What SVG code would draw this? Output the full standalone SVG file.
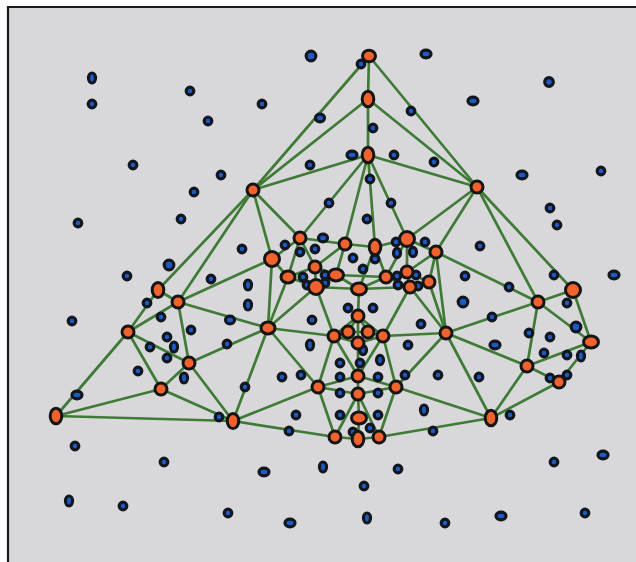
<svg xmlns="http://www.w3.org/2000/svg" width="636" height="562" viewBox="0 0 636 562">
<style>
.e{stroke:#3f7a37;stroke-width:2.7;stroke-linecap:round;fill:none}
.o{fill:#f2622c;stroke:#151515;stroke-width:3}
.b{fill:#1d5bc6;stroke:#12161e;stroke-width:3.2}
</style>
<rect x="0" y="0" width="636" height="562" fill="#ffffff"/>
<rect x="8" y="7" width="628" height="555" fill="#d8d8da"/>
<path d="M8,562 V7 H636" fill="none" stroke="#1a1a1a" stroke-width="2.2"/>
<g id="connectors">
<line class="e" x1="369" y1="56" x2="368" y2="99"/>
<line class="e" x1="369" y1="56" x2="253" y2="190"/>
<line class="e" x1="369" y1="56" x2="477" y2="187"/>
<line class="e" x1="368" y1="99" x2="368" y2="155"/>
<line class="e" x1="368" y1="99" x2="253" y2="190"/>
<line class="e" x1="368" y1="99" x2="477" y2="187"/>
<line class="e" x1="368" y1="155" x2="253" y2="190"/>
<line class="e" x1="368" y1="155" x2="477" y2="187"/>
<line class="e" x1="368" y1="155" x2="300" y2="238"/>
<line class="e" x1="368" y1="155" x2="345" y2="244"/>
<line class="e" x1="368" y1="155" x2="375" y2="247"/>
<line class="e" x1="368" y1="155" x2="407" y2="239"/>
<line class="e" x1="253" y1="190" x2="300" y2="238"/>
<line class="e" x1="253" y1="190" x2="272" y2="259"/>
<line class="e" x1="253" y1="190" x2="158" y2="290"/>
<line class="e" x1="253" y1="190" x2="178" y2="302"/>
<line class="e" x1="477" y1="187" x2="407" y2="239"/>
<line class="e" x1="477" y1="187" x2="436" y2="252"/>
<line class="e" x1="477" y1="187" x2="538" y2="302"/>
<line class="e" x1="477" y1="187" x2="573" y2="290"/>
<line class="e" x1="300" y1="238" x2="345" y2="244"/>
<line class="e" x1="300" y1="238" x2="272" y2="259"/>
<line class="e" x1="300" y1="238" x2="315" y2="267"/>
<line class="e" x1="300" y1="238" x2="288" y2="277"/>
<line class="e" x1="345" y1="244" x2="375" y2="247"/>
<line class="e" x1="345" y1="244" x2="315" y2="267"/>
<line class="e" x1="345" y1="244" x2="336" y2="275"/>
<line class="e" x1="375" y1="247" x2="407" y2="239"/>
<line class="e" x1="375" y1="247" x2="359" y2="289"/>
<line class="e" x1="375" y1="247" x2="386" y2="277"/>
<line class="e" x1="407" y1="239" x2="436" y2="252"/>
<line class="e" x1="407" y1="239" x2="407" y2="272"/>
<line class="e" x1="407" y1="239" x2="386" y2="277"/>
<line class="e" x1="436" y1="252" x2="407" y2="272"/>
<line class="e" x1="436" y1="252" x2="429" y2="282"/>
<line class="e" x1="436" y1="252" x2="446" y2="333"/>
<line class="e" x1="436" y1="252" x2="538" y2="302"/>
<line class="e" x1="272" y1="259" x2="288" y2="277"/>
<line class="e" x1="272" y1="259" x2="178" y2="302"/>
<line class="e" x1="272" y1="259" x2="268" y2="328"/>
<line class="e" x1="315" y1="267" x2="288" y2="277"/>
<line class="e" x1="315" y1="267" x2="336" y2="275"/>
<line class="e" x1="315" y1="267" x2="316" y2="287"/>
<line class="e" x1="288" y1="277" x2="316" y2="287"/>
<line class="e" x1="288" y1="277" x2="268" y2="328"/>
<line class="e" x1="336" y1="275" x2="316" y2="287"/>
<line class="e" x1="336" y1="275" x2="359" y2="289"/>
<line class="e" x1="336" y1="275" x2="386" y2="277"/>
<line class="e" x1="316" y1="287" x2="359" y2="289"/>
<line class="e" x1="316" y1="287" x2="268" y2="328"/>
<line class="e" x1="316" y1="287" x2="334" y2="336"/>
<line class="e" x1="359" y1="289" x2="386" y2="277"/>
<line class="e" x1="359" y1="289" x2="358" y2="316"/>
<line class="e" x1="359" y1="289" x2="410" y2="287"/>
<line class="e" x1="386" y1="277" x2="407" y2="272"/>
<line class="e" x1="386" y1="277" x2="410" y2="287"/>
<line class="e" x1="407" y1="272" x2="410" y2="287"/>
<line class="e" x1="407" y1="272" x2="429" y2="282"/>
<line class="e" x1="410" y1="287" x2="429" y2="282"/>
<line class="e" x1="410" y1="287" x2="446" y2="333"/>
<line class="e" x1="410" y1="287" x2="383" y2="336"/>
<line class="e" x1="429" y1="282" x2="446" y2="333"/>
<line class="e" x1="158" y1="290" x2="178" y2="302"/>
<line class="e" x1="158" y1="290" x2="128" y2="332"/>
<line class="e" x1="178" y1="302" x2="128" y2="332"/>
<line class="e" x1="178" y1="302" x2="268" y2="328"/>
<line class="e" x1="178" y1="302" x2="189" y2="363"/>
<line class="e" x1="128" y1="332" x2="189" y2="363"/>
<line class="e" x1="128" y1="332" x2="161" y2="389"/>
<line class="e" x1="128" y1="332" x2="56" y2="416"/>
<line class="e" x1="268" y1="328" x2="334" y2="336"/>
<line class="e" x1="268" y1="328" x2="189" y2="363"/>
<line class="e" x1="268" y1="328" x2="233" y2="421"/>
<line class="e" x1="268" y1="328" x2="318" y2="387"/>
<line class="e" x1="358" y1="316" x2="334" y2="336"/>
<line class="e" x1="358" y1="316" x2="348" y2="332"/>
<line class="e" x1="358" y1="316" x2="368" y2="332"/>
<line class="e" x1="358" y1="316" x2="383" y2="336"/>
<line class="e" x1="358" y1="316" x2="358" y2="343"/>
<line class="e" x1="334" y1="336" x2="348" y2="332"/>
<line class="e" x1="348" y1="332" x2="368" y2="332"/>
<line class="e" x1="368" y1="332" x2="383" y2="336"/>
<line class="e" x1="334" y1="336" x2="358" y2="343"/>
<line class="e" x1="383" y1="336" x2="358" y2="343"/>
<line class="e" x1="334" y1="336" x2="318" y2="387"/>
<line class="e" x1="334" y1="336" x2="358" y2="376"/>
<line class="e" x1="383" y1="336" x2="358" y2="376"/>
<line class="e" x1="383" y1="336" x2="396" y2="387"/>
<line class="e" x1="383" y1="336" x2="446" y2="333"/>
<line class="e" x1="358" y1="343" x2="358" y2="376"/>
<line class="e" x1="446" y1="333" x2="538" y2="302"/>
<line class="e" x1="446" y1="333" x2="527" y2="366"/>
<line class="e" x1="446" y1="333" x2="396" y2="387"/>
<line class="e" x1="446" y1="333" x2="491" y2="418"/>
<line class="e" x1="538" y1="302" x2="573" y2="290"/>
<line class="e" x1="538" y1="302" x2="591" y2="342"/>
<line class="e" x1="538" y1="302" x2="527" y2="366"/>
<line class="e" x1="573" y1="290" x2="591" y2="342"/>
<line class="e" x1="591" y1="342" x2="527" y2="366"/>
<line class="e" x1="591" y1="342" x2="559" y2="382"/>
<line class="e" x1="527" y1="366" x2="559" y2="382"/>
<line class="e" x1="527" y1="366" x2="491" y2="418"/>
<line class="e" x1="559" y1="382" x2="491" y2="418"/>
<line class="e" x1="189" y1="363" x2="161" y2="389"/>
<line class="e" x1="189" y1="363" x2="233" y2="421"/>
<line class="e" x1="161" y1="389" x2="56" y2="416"/>
<line class="e" x1="161" y1="389" x2="233" y2="421"/>
<line class="e" x1="56" y1="416" x2="233" y2="421"/>
<line class="e" x1="318" y1="387" x2="358" y2="376"/>
<line class="e" x1="318" y1="387" x2="358" y2="394"/>
<line class="e" x1="318" y1="387" x2="233" y2="421"/>
<line class="e" x1="318" y1="387" x2="335" y2="437"/>
<line class="e" x1="358" y1="376" x2="396" y2="387"/>
<line class="e" x1="358" y1="376" x2="358" y2="394"/>
<line class="e" x1="358" y1="394" x2="396" y2="387"/>
<line class="e" x1="358" y1="394" x2="359" y2="418"/>
<line class="e" x1="358" y1="394" x2="335" y2="437"/>
<line class="e" x1="358" y1="394" x2="379" y2="437"/>
<line class="e" x1="396" y1="387" x2="379" y2="437"/>
<line class="e" x1="396" y1="387" x2="491" y2="418"/>
<line class="e" x1="359" y1="418" x2="358" y2="439"/>
<line class="e" x1="335" y1="437" x2="358" y2="439"/>
<line class="e" x1="358" y1="439" x2="379" y2="437"/>
<line class="e" x1="335" y1="437" x2="233" y2="421"/>
<line class="e" x1="379" y1="437" x2="491" y2="418"/>
</g>
<g id="points">
<circle class="b" cx="311" cy="56" r="4.8"/>
<ellipse class="b" cx="426" cy="54" rx="5" ry="3.8"/>
<ellipse class="b" cx="92" cy="78" rx="3.5" ry="5"/>
<circle class="b" cx="549" cy="82" r="4.3"/>
<circle class="b" cx="190" cy="91" r="3.8"/>
<circle class="b" cx="92" cy="104" r="3.8"/>
<circle class="b" cx="262" cy="104" r="3.8"/>
<ellipse class="b" cx="473" cy="101" rx="5" ry="3.8"/>
<circle class="b" cx="361" cy="64" r="3.8"/>
<ellipse class="b" cx="320" cy="118" rx="4.5" ry="3.8"/>
<circle class="b" cx="411" cy="111" r="3.8"/>
<circle class="b" cx="208" cy="121" r="3.8"/>
<circle class="b" cx="373" cy="128" r="3.8"/>
<ellipse class="b" cx="352" cy="155" rx="5" ry="3.8"/>
<circle class="b" cx="394" cy="155" r="3.8"/>
<circle class="b" cx="434" cy="162" r="3.8"/>
<circle class="b" cx="310" cy="165" r="3.8"/>
<circle class="b" cx="133" cy="165" r="3.8"/>
<circle class="b" cx="221" cy="175" r="3.8"/>
<ellipse class="b" cx="522" cy="175" rx="5" ry="3.8"/>
<circle class="b" cx="601" cy="171" r="3.8"/>
<circle class="b" cx="194" cy="192" r="3.8"/>
<circle class="b" cx="370" cy="179" r="3.8"/>
<circle class="b" cx="329" cy="203" r="3.8"/>
<circle class="b" cx="391" cy="203" r="3.8"/>
<circle class="b" cx="550" cy="208" r="3.8"/>
<circle class="b" cx="181" cy="219" r="3.8"/>
<circle class="b" cx="78" cy="223" r="3.8"/>
<circle class="b" cx="367" cy="219" r="3.8"/>
<circle class="b" cx="557" cy="225" r="3.8"/>
<circle class="b" cx="242" cy="249" r="3.8"/>
<circle class="b" cx="480" cy="246" r="3.8"/>
<circle class="b" cx="169" cy="265" r="4.8"/>
<circle class="b" cx="127" cy="276" r="3.8"/>
<circle class="b" cx="211" cy="279" r="3.8"/>
<ellipse class="b" cx="248" cy="285" rx="3.5" ry="5"/>
<ellipse class="b" cx="248" cy="305" rx="3.5" ry="5"/>
<circle class="b" cx="465" cy="276" r="3.8"/>
<circle class="b" cx="554" cy="275" r="3.8"/>
<ellipse class="b" cx="614" cy="275" rx="5" ry="3.8"/>
<circle class="b" cx="463" cy="302" r="4.8"/>
<circle class="b" cx="567" cy="303" r="3.8"/>
<circle class="b" cx="147" cy="303" r="3.8"/>
<circle class="b" cx="72" cy="321" r="3.8"/>
<circle class="b" cx="161" cy="317" r="3.8"/>
<circle class="b" cx="191" cy="330" r="3.8"/>
<ellipse class="b" cx="230" cy="320" rx="4.5" ry="3.8"/>
<circle class="b" cx="312" cy="320" r="3.8"/>
<circle class="b" cx="421" cy="324" r="3.8"/>
<circle class="b" cx="492" cy="317" r="3.8"/>
<circle class="b" cx="509" cy="287" r="3.8"/>
<circle class="b" cx="529" cy="333" r="3.8"/>
<circle class="b" cx="550" cy="337" r="3.8"/>
<circle class="b" cx="576" cy="327" r="4.8"/>
<circle class="b" cx="167" cy="337" r="3.8"/>
<circle class="b" cx="150" cy="347" r="3.8"/>
<ellipse class="b" cx="174" cy="347" rx="3.5" ry="5"/>
<circle class="b" cx="167" cy="358" r="3.8"/>
<circle class="b" cx="227" cy="344" r="3.8"/>
<ellipse class="b" cx="310" cy="345" rx="3.5" ry="5"/>
<circle class="b" cx="408" cy="345" r="3.8"/>
<ellipse class="b" cx="495" cy="345" rx="5" ry="3.8"/>
<circle class="b" cx="544" cy="353" r="3.8"/>
<circle class="b" cx="567" cy="355" r="3.8"/>
<ellipse class="b" cx="581" cy="356" rx="3.5" ry="5"/>
<circle class="b" cx="138" cy="371" r="3.8"/>
<ellipse class="b" cx="184" cy="378" rx="3.5" ry="5"/>
<circle class="b" cx="282" cy="377" r="3.8"/>
<circle class="b" cx="301" cy="375" r="3.8"/>
<circle class="b" cx="438" cy="375" r="3.8"/>
<circle class="b" cx="479" cy="377" r="3.8"/>
<circle class="b" cx="550" cy="378" r="3.8"/>
<circle class="b" cx="567" cy="375" r="3.8"/>
<circle class="b" cx="245" cy="387" r="3.8"/>
<ellipse class="b" cx="77" cy="395" rx="5" ry="3.8"/>
<ellipse class="b" cx="424" cy="410" rx="3.5" ry="5"/>
<circle class="b" cx="296" cy="415" r="3.8"/>
<circle class="b" cx="340" cy="415" r="3.8"/>
<circle class="b" cx="378" cy="415" r="3.8"/>
<circle class="b" cx="510" cy="415" r="3.8"/>
<circle class="b" cx="219" cy="417" r="3.8"/>
<circle class="b" cx="289" cy="431" r="3.8"/>
<circle class="b" cx="433" cy="431" r="3.8"/>
<circle class="b" cx="75" cy="446" r="3.8"/>
<circle class="b" cx="164" cy="462" r="3.8"/>
<ellipse class="b" cx="264" cy="472" rx="5" ry="3.8"/>
<ellipse class="b" cx="323" cy="467" rx="3.5" ry="5"/>
<circle class="b" cx="398" cy="469" r="3.8"/>
<circle class="b" cx="364" cy="486" r="3.8"/>
<circle class="b" cx="554" cy="462" r="3.8"/>
<ellipse class="b" cx="603" cy="455" rx="5" ry="3.8"/>
<ellipse class="b" cx="69" cy="501" rx="3.5" ry="5"/>
<circle class="b" cx="123" cy="506" r="3.8"/>
<circle class="b" cx="228" cy="513" r="3.8"/>
<ellipse class="b" cx="290" cy="523" rx="5" ry="3.8"/>
<ellipse class="b" cx="367" cy="518" rx="3.5" ry="5"/>
<circle class="b" cx="445" cy="523" r="3.8"/>
<ellipse class="b" cx="501" cy="516" rx="5" ry="3.8"/>
<circle class="b" cx="585" cy="513" r="3.8"/>
<circle class="b" cx="285" cy="245" r="3.8"/>
<ellipse class="b" cx="323" cy="238" rx="4.5" ry="3.8"/>
<circle class="b" cx="300" cy="252" r="3.8"/>
<circle class="b" cx="315" cy="249" r="3.8"/>
<circle class="b" cx="353" cy="258" r="3.8"/>
<circle class="b" cx="375" cy="259" r="3.8"/>
<circle class="b" cx="396" cy="242" r="3.8"/>
<ellipse class="b" cx="397" cy="253" rx="3.5" ry="4.6"/>
<ellipse class="b" cx="413" cy="252" rx="3.5" ry="4.6"/>
<circle class="b" cx="425" cy="242" r="3.8"/>
<circle class="b" cx="363" cy="269" r="3.8"/>
<circle class="b" cx="303" cy="277" r="3.8"/>
<circle class="b" cx="325" cy="275" r="3.8"/>
<circle class="b" cx="325" cy="283" r="3.8"/>
<circle class="b" cx="397" cy="276" r="3.8"/>
<circle class="b" cx="398" cy="285" r="3.8"/>
<circle class="b" cx="416" cy="275" r="3.8"/>
<circle class="b" cx="418" cy="286" r="3.8"/>
<circle class="b" cx="307" cy="285" r="3.8"/>
<circle class="b" cx="348" cy="308" r="3.8"/>
<circle class="b" cx="373" cy="308" r="3.8"/>
<ellipse class="b" cx="363" cy="350" rx="3.5" ry="4.6"/>
<ellipse class="b" cx="380" cy="360" rx="3.5" ry="4.6"/>
<circle class="b" cx="340" cy="363" r="3.8"/>
<circle class="b" cx="360" cy="363" r="3.8"/>
<circle class="b" cx="340" cy="377" r="3.8"/>
<circle class="b" cx="340" cy="393" r="3.8"/>
<circle class="b" cx="378" cy="377" r="3.8"/>
<circle class="b" cx="378" cy="393" r="3.8"/>
<circle class="b" cx="405" cy="375" r="3.8"/>
<circle class="b" cx="353" cy="432" r="3.8"/>
<circle class="b" cx="370" cy="428" r="3.8"/>
</g>
<g id="nA"><ellipse class="o" cx="369" cy="56" rx="6.5" ry="5.8"/></g>
<g id="nB"><ellipse class="o" cx="368" cy="99" rx="5.8" ry="7.8"/></g>
<g id="nC"><ellipse class="o" cx="368" cy="155" rx="5.8" ry="7.8"/></g>
<g id="nD"><circle class="o" cx="253" cy="190" r="6"/></g>
<g id="nE"><circle class="o" cx="477" cy="187" r="6"/></g>
<g id="nF"><circle class="o" cx="300" cy="238" r="6"/></g>
<g id="nG"><circle class="o" cx="345" cy="244" r="6"/></g>
<g id="nH"><ellipse class="o" cx="375" cy="247" rx="5.8" ry="7.8"/></g>
<g id="nI"><circle class="o" cx="407" cy="239" r="7.5"/></g>
<g id="nJ"><circle class="o" cx="436" cy="252" r="6"/></g>
<g id="nK"><circle class="o" cx="272" cy="259" r="7.5"/></g>
<g id="nL"><circle class="o" cx="315" cy="267" r="6"/></g>
<g id="nM"><ellipse class="o" cx="288" cy="277" rx="7" ry="6"/></g>
<g id="nN"><ellipse class="o" cx="336" cy="275" rx="7.5" ry="6"/></g>
<g id="nO"><circle class="o" cx="316" cy="287" r="7.5"/></g>
<g id="nP"><ellipse class="o" cx="359" cy="289" rx="7.5" ry="6"/></g>
<g id="nQ"><circle class="o" cx="386" cy="277" r="6"/></g>
<g id="nR"><circle class="o" cx="407" cy="272" r="6"/></g>
<g id="nS"><circle class="o" cx="410" cy="287" r="6"/></g>
<g id="nT"><circle class="o" cx="429" cy="282" r="6"/></g>
<g id="nU"><ellipse class="o" cx="158" cy="290" rx="5.8" ry="7.5"/></g>
<g id="nV"><circle class="o" cx="178" cy="302" r="6"/></g>
<g id="nW"><circle class="o" cx="128" cy="332" r="6"/></g>
<g id="nX"><ellipse class="o" cx="268" cy="328" rx="7" ry="6"/></g>
<g id="nY"><circle class="o" cx="358" cy="316" r="6"/></g>
<g id="nZ1"><circle class="o" cx="334" cy="336" r="6"/></g>
<g id="nZ2"><circle class="o" cx="348" cy="332" r="6"/></g>
<g id="nZ3"><circle class="o" cx="368" cy="332" r="6"/></g>
<g id="nZ4"><circle class="o" cx="383" cy="336" r="6"/></g>
<g id="nZ5"><circle class="o" cx="358" cy="343" r="6"/></g>
<g id="nAA"><circle class="o" cx="446" cy="333" r="6"/></g>
<g id="nAB"><circle class="o" cx="538" cy="302" r="6"/></g>
<g id="nAC"><circle class="o" cx="573" cy="290" r="7.5"/></g>
<g id="nAD"><ellipse class="o" cx="591" cy="342" rx="7.5" ry="6"/></g>
<g id="nAE"><circle class="o" cx="189" cy="363" r="6"/></g>
<g id="nAF"><circle class="o" cx="527" cy="366" r="6"/></g>
<g id="nAG"><circle class="o" cx="559" cy="382" r="6"/></g>
<g id="nAH"><circle class="o" cx="161" cy="389" r="6"/></g>
<g id="nAI"><circle class="o" cx="318" cy="387" r="6"/></g>
<g id="nAJ"><circle class="o" cx="396" cy="387" r="6"/></g>
<g id="nAK"><circle class="o" cx="358" cy="376" r="6"/></g>
<g id="nAL"><circle class="o" cx="358" cy="394" r="6"/></g>
<g id="nAM"><ellipse class="o" cx="56" cy="416" rx="5.8" ry="7.8"/></g>
<g id="nAN"><ellipse class="o" cx="233" cy="421" rx="5.8" ry="7.5"/></g>
<g id="nAO"><ellipse class="o" cx="359" cy="418" rx="7.5" ry="6"/></g>
<g id="nAP"><ellipse class="o" cx="491" cy="418" rx="5.8" ry="7.8"/></g>
<g id="nAQ"><circle class="o" cx="335" cy="437" r="6"/></g>
<g id="nAR"><ellipse class="o" cx="358" cy="439" rx="5.8" ry="7.8"/></g>
<g id="nAS"><circle class="o" cx="379" cy="437" r="6"/></g>
</svg>
